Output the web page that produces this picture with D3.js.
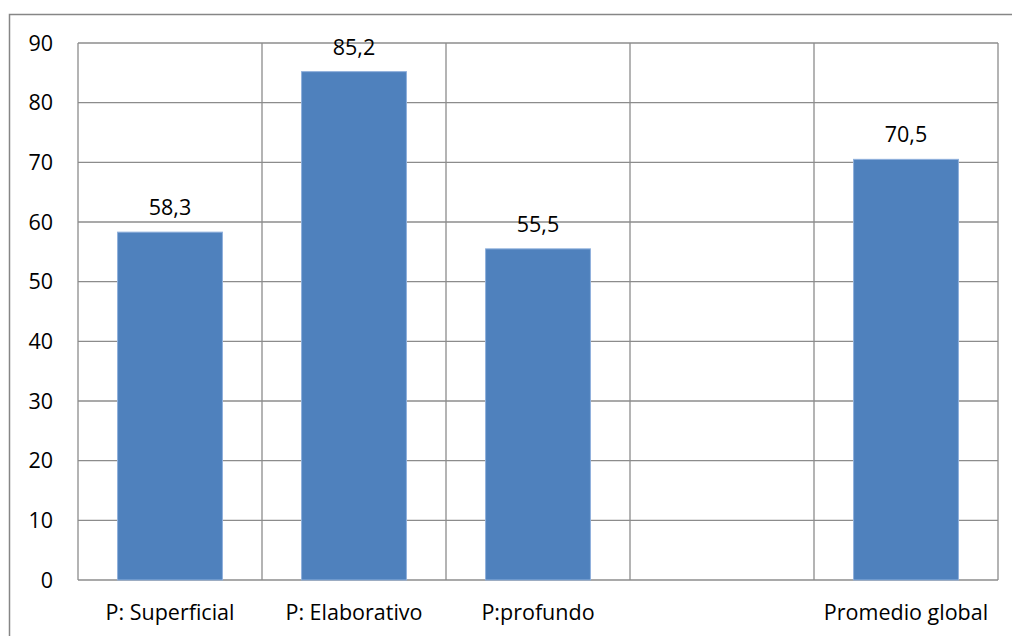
<!DOCTYPE html>
<html lang="es">
<head>
<meta charset="utf-8">
<script src="https://d3js.org/d3.v7.min.js"></script>
<style>
body { margin: 0; background: #fff; }
text { font-family: "Open Sans", "Noto Sans", sans-serif; font-size: 21.5px; fill: #000; }
</style>
</head>
<body>
<svg width="1012" height="636"></svg>
<script>
var categories = ["P: Superficial", "P: Elaborativo", "P:profundo", "", "Promedio global"];
var values = [58.3, 85.2, 55.5, null, 70.5];
var yTicks = [0, 10, 20, 30, 40, 50, 60, 70, 80, 90];

var svg = d3.select("svg");
var plotLeft = 78, plotRight = 998, plotTop = 43, plotBottom = 580;

// outer frame
svg.append("rect")
    .attr("x", 9.5).attr("y", 14.5)
    .attr("width", 1010).attr("height", 630)
    .attr("fill", "none").attr("stroke", "#868686").attr("stroke-width", 1.5);

var x = d3.scaleBand().domain(d3.range(categories.length)).range([plotLeft, plotRight]).padding(0);
var y = d3.scaleLinear().domain([0, 90]).range([plotBottom, plotTop]);

// horizontal grid
svg.append("g").selectAll("line").data(yTicks).enter().append("line")
    .attr("x1", plotLeft).attr("x2", plotRight)
    .attr("y1", function(d) { return y(d); }).attr("y2", function(d) { return y(d); })
    .attr("stroke", "#8c8c8c").attr("stroke-width", 1.3);

// vertical grid at category boundaries
var bounds = d3.range(categories.length + 1).map(function(i) { return plotLeft + i * x.bandwidth(); });
svg.append("g").selectAll("line").data(bounds).enter().append("line")
    .attr("x1", function(d) { return d; }).attr("x2", function(d) { return d; })
    .attr("y1", plotTop).attr("y2", plotBottom)
    .attr("stroke", "#8c8c8c").attr("stroke-width", 1.3);

// bars
var barW = x.bandwidth() * 0.57;
var data = categories.map(function(c, i) { return {i: i, c: c, v: values[i]}; });
var bars = data.filter(function(d) { return d.v != null; });

svg.append("g").selectAll("rect").data(bars).enter().append("rect")
    .attr("x", function(d) { return x(d.i) + (x.bandwidth() - barW) / 2; })
    .attr("y", function(d) { return y(d.v); })
    .attr("width", barW)
    .attr("height", function(d) { return plotBottom - y(d.v); })
    .attr("fill", "#4f81bd").attr("stroke", "#8fb0dc").attr("stroke-width", 1);

// value labels
svg.append("g").selectAll("text").data(bars).enter().append("text")
    .attr("x", function(d) { return x(d.i) + x.bandwidth() / 2; })
    .attr("y", function(d) { return y(d.v) - 17; })
    .attr("text-anchor", "middle")
    .text(function(d) { return d3.format(".1f")(d.v).replace(".", ","); });

// y tick labels
svg.append("g").selectAll("text").data(yTicks).enter().append("text")
    .attr("x", 53).attr("y", function(d) { return y(d); })
    .attr("dy", "0.35em").attr("text-anchor", "end")
    .text(function(d) { return d; });

// category labels
svg.append("g").selectAll("text").data(data).enter().append("text")
    .attr("x", function(d) { return x(d.i) + x.bandwidth() / 2; })
    .attr("y", 620)
    .attr("text-anchor", "middle")
    .text(function(d) { return d.c; });
</script>
</body>
</html>
